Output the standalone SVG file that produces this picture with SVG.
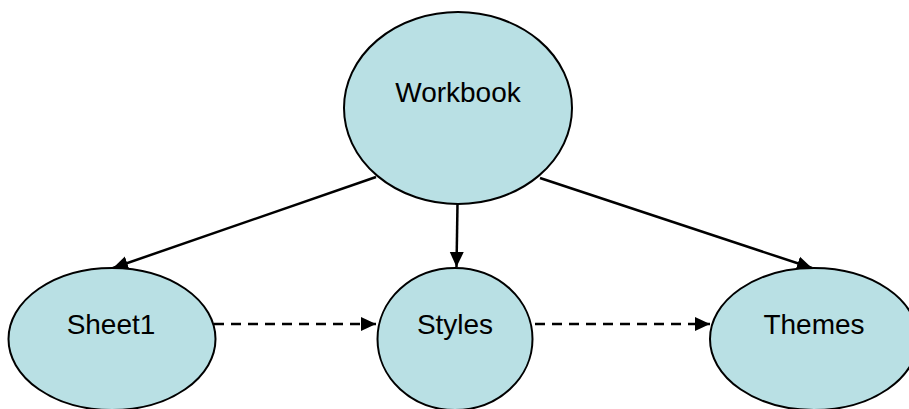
<svg xmlns="http://www.w3.org/2000/svg" width="909" height="409" viewBox="0 0 909 409">
<style>
.node ellipse{fill:#b9e0e4;stroke:#000;stroke-width:2}
.node text{font-family:"Liberation Sans",Arial,sans-serif;font-size:28px;fill:#000;text-anchor:middle}
.edge{stroke:#000;stroke-width:2.5;fill:none}
.dash{stroke-dasharray:10 7}
</style>
<defs>
<marker id="ah" markerUnits="userSpaceOnUse" markerWidth="16" markerHeight="16" viewBox="0 0 16 16" refX="15" refY="8" orient="auto">
<path d="M0,1 L15,8 L0,15 Z" fill="#000"/>
</marker>
</defs>
<rect width="909" height="409" fill="#fff"/>
<g id="connectors">
<line class="edge" x1="376" y1="177" x2="113" y2="268" marker-end="url(#ah)"/>
<line class="edge" x1="457.5" y1="204" x2="456.5" y2="267" marker-end="url(#ah)"/>
<line class="edge" x1="540" y1="178" x2="812" y2="268" marker-end="url(#ah)"/>
<line class="edge dash" x1="214" y1="324" x2="376" y2="324" marker-end="url(#ah)"/>
<line class="edge dash" x1="535" y1="324" x2="710" y2="324" marker-end="url(#ah)"/>
</g>
<g id="workbook" class="node">
<ellipse cx="458" cy="108" rx="114" ry="96"/>
<text x="458" y="102">Workbook</text>
</g>
<g id="sheet1" class="node">
<ellipse cx="112" cy="339" rx="103.5" ry="71"/>
<text x="111" y="334">Sheet1</text>
</g>
<g id="styles" class="node">
<ellipse cx="455" cy="339" rx="77.5" ry="71"/>
<text x="455" y="334">Styles</text>
</g>
<g id="themes" class="node">
<ellipse cx="814" cy="339" rx="104" ry="71"/>
<text x="814" y="334">Themes</text>
</g>
</svg>
